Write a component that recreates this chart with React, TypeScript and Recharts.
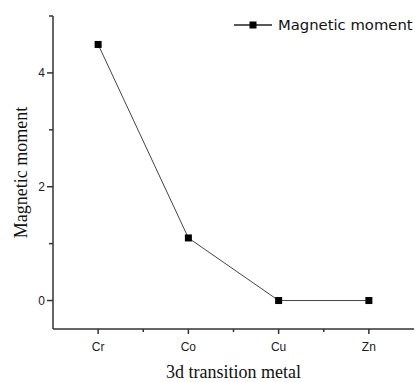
import React from 'react';
import { LineChart, Line, XAxis, YAxis } from 'recharts';

const metals = ['Cr', 'Co', 'Cu', 'Zn'];
const moments = [4.5, 1.1, 0, 0];
const yTicks = [0, 1, 2, 3, 4, 5];
const xTicks = [0, 0.5, 1, 1.5, 2, 2.5, 3];
const seriesName = 'Magnetic moment';

const data = metals.map((name, i) => ({ idx: i, name, moment: moments[i] }));

const AXIS = '#333';
const SANS = '"Liberation Sans", Arial, sans-serif';
const SERIF = '"Liberation Serif", "Times New Roman", serif';

const XTick = (props: any) => {
  const { x, y, payload } = props;
  const v = payload.value;
  const major = Number.isInteger(v);
  return (
    <g>
      <line x1={x} y1={y} x2={x} y2={y + (major ? 5 : 3)} stroke={AXIS} strokeWidth={1.5} />
      {major && (
        <text x={x} y={y + 22} textAnchor="middle" fontSize={12} fontFamily={SANS} fill="#222">
          {metals[v]}
        </text>
      )}
    </g>
  );
};

const YTick = (props: any) => {
  const { x, y, payload } = props;
  const v = payload.value;
  const major = v % 2 === 0;
  return (
    <g>
      <line x1={x} y1={y} x2={x - (major ? 6 : 4)} y2={y} stroke={AXIS} strokeWidth={1.5} />
      {major && (
        <text x={x - 8} y={y + 4} textAnchor="end" fontSize={12} fontFamily={SANS} fill="#222">
          {v}
        </text>
      )}
    </g>
  );
};

const Square = (props: any) => {
  const { cx, cy } = props;
  return <rect x={cx - 3.5} y={cy - 3.5} width={7} height={7} fill="#000" />;
};

const YTitle = (props: any) => {
  const { viewBox } = props;
  const cx = 21;
  const cy = viewBox.y + viewBox.height / 2;
  return (
    <text
      x={cx}
      y={cy}
      transform={`rotate(-90, ${cx}, ${cy})`}
      textAnchor="middle"
      dominantBaseline="central"
      fontFamily={SERIF}
      fontSize={18}
      fill="#111"
    >
      {seriesName}
    </text>
  );
};

export default function App() {
  return (
    <div style={{ position: 'absolute', left: 0, top: 0, width: 415, height: 382, background: '#fff' }}>
      <LineChart width={415} height={382} data={data} margin={{ top: 16, right: 1, bottom: 0, left: 0 }}>
        <XAxis
          dataKey="idx"
          type="number"
          domain={[-0.5, 3.5]}
          ticks={xTicks}
          interval={0}
          tickSize={0}
          tickMargin={0}
          tickLine={false}
          tick={<XTick />}
          stroke={AXIS}
          strokeWidth={1.5}
          height={53}
          label={{
            value: '3d transition metal',
            position: 'insideBottom',
            offset: 4,
            style: { fontFamily: SERIF, fontSize: 18, fill: '#111' },
          }}
        />
        <YAxis
          type="number"
          domain={[-0.5, 5]}
          ticks={yTicks}
          interval={0}
          tickSize={0}
          tickMargin={0}
          tickLine={false}
          tick={<YTick />}
          stroke={AXIS}
          strokeWidth={1.5}
          width={53}
          allowDataOverflow
          label={<YTitle />}
        />
        <Line
          dataKey="moment"
          name={seriesName}
          stroke="#444"
          strokeWidth={1}
          dot={<Square />}
          activeDot={false}
          isAnimationActive={false}
        />
      </LineChart>
      <svg width={182} height={20} style={{ position: 'absolute', top: 15, left: 232 }}>
        <line x1={2} y1={10} x2={40} y2={10} stroke="#222" strokeWidth={1.5} />
        <rect x={17.5} y={6.5} width={7} height={7} fill="#000" />
        <text x={46} y={15} fontSize={14.8} fontFamily='"DejaVu Sans", sans-serif' fill="#111">
          {seriesName}
        </text>
      </svg>
    </div>
  );
}
